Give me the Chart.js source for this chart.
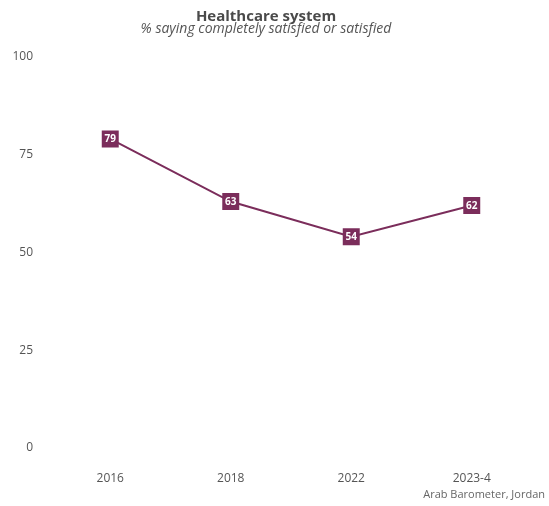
<!DOCTYPE html>
<html>
<head>
<meta charset="utf-8">
<script src="https://cdn.jsdelivr.net/npm/chart.js@4/dist/chart.umd.min.js"></script>
<style>
  html, body { margin: 0; padding: 0; background: #fff; }
  #wrap { width: 549px; height: 506px; position: relative; }
</style>
</head>
<body>
<div id="wrap"><canvas id="chart"></canvas></div>
<script>
const years = ["2016", "2018", "2022", "2023-4"];
const satisfied = [79, 63, 54, 62];
const yTicks = [0, 25, 50, 75, 100];

const plum = "#7b2d5b";
const fontFamily = "'Open Sans', 'Noto Sans', sans-serif";

// value labels inside the square markers, plus the source line
const labelsPlugin = {
  id: "labels",
  afterDatasetsDraw(chart) {
    const ctx = chart.ctx;
    const meta = chart.getDatasetMeta(0);
    ctx.save();
    ctx.fillStyle = "#fff";
    ctx.font = "bold 10px " + fontFamily;
    ctx.textAlign = "center";
    ctx.textBaseline = "middle";
    meta.data.forEach((pt, i) => {
      ctx.fillText(String(satisfied[i]), pt.x, pt.y + 0.5);
    });
    ctx.restore();
  },
  afterDraw(chart) {
    const ctx = chart.ctx;
    ctx.save();
    ctx.fillStyle = "#666";
    ctx.font = "11px " + fontFamily;
    ctx.textAlign = "right";
    ctx.textBaseline = "middle";
    ctx.fillText("Arab Barometer, Jordan", chart.width - 4, 495);
    ctx.restore();
  }
};

new Chart(document.getElementById("chart"), {
  type: "line",
  data: {
    labels: years,
    datasets: [{
      data: satisfied,
      borderColor: plum,
      backgroundColor: plum,
      borderWidth: 2,
      pointStyle: "rect",
      pointRadius: 12,
      pointHoverRadius: 12,
      pointBorderWidth: 0,
      tension: 0
    }]
  },
  options: {
    responsive: true,
    maintainAspectRatio: false,
    animation: false,
    layout: { padding: { left: 0, right: 17, top: 0, bottom: 18 } },
    plugins: {
      legend: { display: false },
      tooltip: { enabled: false },
      title: {
        display: true,
        text: "Healthcare system",
        color: "#4a4a4a",
        font: { family: fontFamily, size: 15, weight: "bold" },
        padding: { top: 8, bottom: 0 }
      },
      subtitle: {
        display: true,
        text: "% saying completely satisfied or satisfied",
        color: "#555",
        font: { family: fontFamily, size: 14, style: "italic" },
        padding: { top: -5, bottom: 19 }
      }
    },
    scales: {
      x: {
        offset: true,
        grid: { display: false, drawTicks: false, offset: true },
        border: { display: false },
        ticks: { color: "#555", font: { family: fontFamily, size: 12 }, padding: 23 },
        afterFit(scale) { scale.height = 40; }
      },
      y: {
        min: 0,
        max: 100,
        grid: { display: false, drawTicks: false },
        border: { display: false },
        afterBuildTicks(scale) { scale.ticks = yTicks.map(v => ({ value: v })); },
        ticks: { color: "#555", font: { family: fontFamily, size: 12 }, padding: 17 },
        afterFit(scale) { scale.width = 50; }
      }
    }
  },
  plugins: [labelsPlugin]
});
</script>
</body>
</html>
